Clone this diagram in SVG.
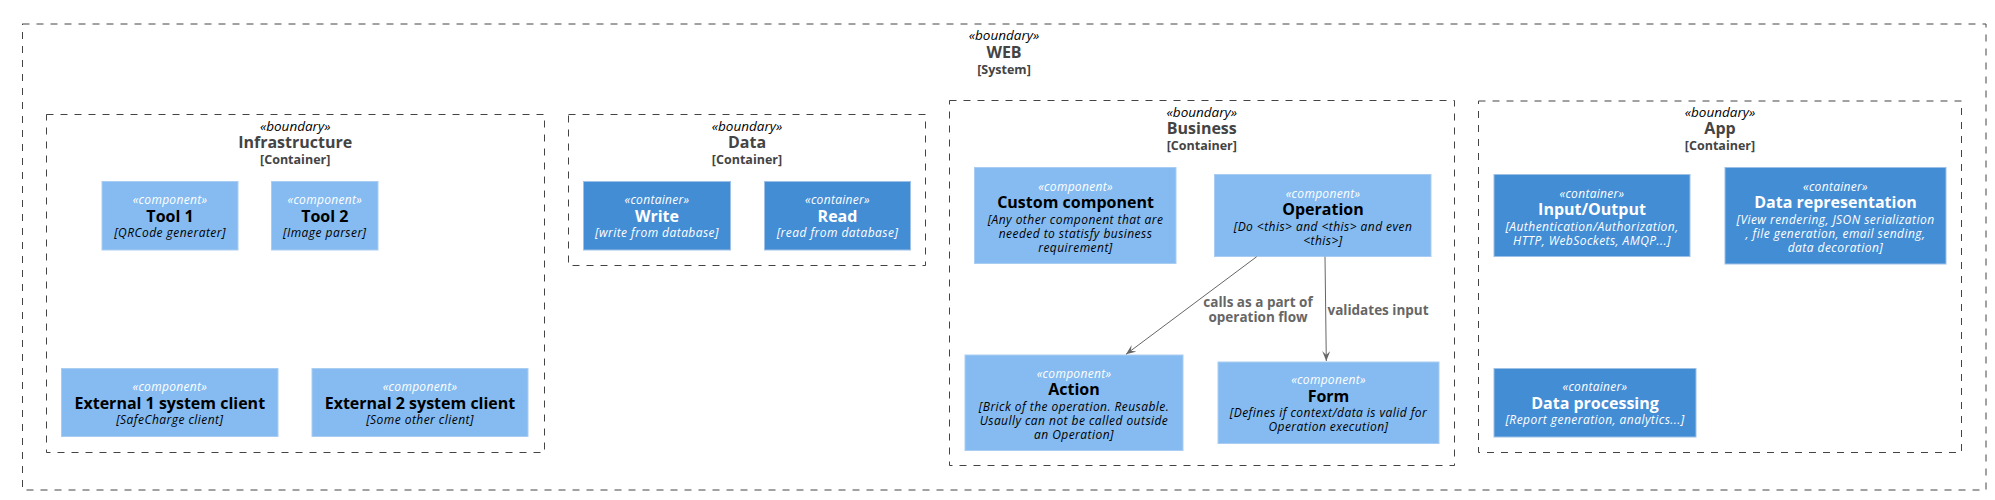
<svg xmlns="http://www.w3.org/2000/svg" width="1995" height="500" viewBox="0 0 1995 500">
<style>
text{font-family:"Open Sans","Noto Sans","DejaVu Sans",sans-serif;text-anchor:middle}
.bnd{fill:none;stroke:#444444;stroke-width:1;stroke-dasharray:7,7}
.bst{font-size:13.5px;font-style:italic;fill:#000000}
.bname{font-size:16px;font-weight:bold;fill:#444444}
.btype{font-size:12.5px;font-weight:bold;fill:#444444}
.comp{fill:#85BBF0;stroke:#A9CDF2;stroke-width:1}
.cont{fill:#438DD5;stroke:#9DC0E6;stroke-width:1}
.st{font-size:12px;font-style:italic;letter-spacing:0.3px}
.ti{font-size:16px;font-weight:bold}
.de{font-size:12px;font-style:italic;letter-spacing:0.45px}
.comp-t{fill:#000000}
.comp-s{fill:#FFFFFF}
.cont-t{fill:#FFFFFF}
.edge{fill:none;stroke:#666666;stroke-width:1}
.lbl{font-size:13.5px;font-weight:bold;fill:#666666}
</style>
<defs>
<marker id="arr" markerWidth="12" markerHeight="10" refX="10" refY="4" orient="auto" markerUnits="userSpaceOnUse">
<path d="M0,0 L10,4 L0,8 L4,4 Z" fill="#666666"/>
</marker>
</defs>

<g id="boundary-web">
<rect class="bnd" x="22.5" y="24" width="1963.5" height="466"/>
<text class="bst" x="1004" y="40">«boundary»</text>
<text class="bname" x="1004" y="58">WEB</text>
<text class="btype" x="1004" y="73.5">[System]</text>
</g>

<g id="boundary-infrastructure">
<rect class="bnd" x="46.5" y="114.5" width="498" height="338"/>
<text class="bst" x="295.2" y="131">«boundary»</text>
<text class="bname" x="295.2" y="148.3">Infrastructure</text>
<text class="btype" x="295.2" y="163.5">[Container]</text>
</g>

<g id="boundary-data">
<rect class="bnd" x="568.5" y="114.5" width="357" height="151"/>
<text class="bst" x="747" y="131">«boundary»</text>
<text class="bname" x="747" y="148.3">Data</text>
<text class="btype" x="747" y="163.5">[Container]</text>
</g>

<g id="boundary-business">
<rect class="bnd" x="949.5" y="100.5" width="505" height="365"/>
<text class="bst" x="1201.8" y="116.5">«boundary»</text>
<text class="bname" x="1201.8" y="134.3">Business</text>
<text class="btype" x="1201.8" y="149.6">[Container]</text>
</g>

<g id="boundary-app">
<rect class="bnd" x="1478.5" y="101" width="483" height="351.5"/>
<text class="bst" x="1720" y="116.5">«boundary»</text>
<text class="bname" x="1720" y="134.3">App</text>
<text class="btype" x="1720" y="149.6">[Container]</text>
</g>

<g id="tool1">
<rect class="comp" x="102" y="181.5" width="136" height="68.5"/>
<text class="st comp-s" x="170" y="204">«component»</text>
<text class="ti comp-t" x="170" y="221.8">Tool 1</text>
<text class="de comp-t" x="170" y="237.2">[QRCode generater]</text>
</g>

<g id="tool2">
<rect class="comp" x="271.5" y="181.5" width="106.5" height="68.5"/>
<text class="st comp-s" x="324.8" y="204">«component»</text>
<text class="ti comp-t" x="324.8" y="221.8">Tool 2</text>
<text class="de comp-t" x="324.8" y="237.2">[Image parser]</text>
</g>

<g id="external1">
<rect class="comp" x="61.5" y="368.5" width="216.5" height="68"/>
<text class="st comp-s" x="169.8" y="391">«component»</text>
<text class="ti comp-t" x="169.8" y="408.8">External 1 system client</text>
<text class="de comp-t" x="169.8" y="424.2">[SafeCharge client]</text>
</g>

<g id="external2">
<rect class="comp" x="312" y="368.5" width="216" height="68"/>
<text class="st comp-s" x="420" y="391">«component»</text>
<text class="ti comp-t" x="420" y="408.8">External 2 system client</text>
<text class="de comp-t" x="420" y="424.2">[Some other client]</text>
</g>

<g id="write">
<rect class="cont" x="583.5" y="181.5" width="147" height="68.5"/>
<text class="st cont-t" x="657" y="204">«container»</text>
<text class="ti cont-t" x="657" y="221.8">Write</text>
<text class="de cont-t" x="657" y="237.2">[write from database]</text>
</g>

<g id="read">
<rect class="cont" x="764.5" y="181.5" width="146" height="68.5"/>
<text class="st cont-t" x="837.5" y="204">«container»</text>
<text class="ti cont-t" x="837.5" y="221.8">Read</text>
<text class="de cont-t" x="837.5" y="237.2">[read from database]</text>
</g>

<g id="custom-component">
<rect class="comp" x="974.5" y="167.5" width="201.5" height="96"/>
<text class="st comp-s" x="1075.5" y="190.5">«component»</text>
<text class="ti comp-t" x="1075.5" y="208.3">Custom component</text>
<text class="de comp-t" x="1075.5" y="223.5">[Any other component that are</text>
<text class="de comp-t" x="1075.5" y="237.5">needed to statisfy business</text>
<text class="de comp-t" x="1075.5" y="251.5">requirement]</text>
</g>

<g id="operation">
<rect class="comp" x="1214.5" y="174.5" width="216.5" height="82"/>
<text class="st comp-s" x="1323" y="197.5">«component»</text>
<text class="ti comp-t" x="1323" y="215">Operation</text>
<text class="de comp-t" x="1323" y="230.5">[Do &lt;this&gt; and &lt;this&gt; and even</text>
<text class="de comp-t" x="1323" y="244.5">&lt;this&gt;]</text>
</g>

<g id="action">
<rect class="comp" x="965" y="355" width="218" height="95.5"/>
<text class="st comp-s" x="1074" y="377.5">«component»</text>
<text class="ti comp-t" x="1074" y="395">Action</text>
<text class="de comp-t" x="1074" y="410.5">[Brick of the operation. Reusable.</text>
<text class="de comp-t" x="1074" y="424.5">Usaully can not be called outside</text>
<text class="de comp-t" x="1074" y="438.5">an Operation]</text>
</g>

<g id="form">
<rect class="comp" x="1218" y="362" width="221" height="81.5"/>
<text class="st comp-s" x="1328.5" y="384">«component»</text>
<text class="ti comp-t" x="1328.5" y="401.5">Form</text>
<text class="de comp-t" x="1328.5" y="417">[Defines if context/data is valid for</text>
<text class="de comp-t" x="1328.5" y="431">Operation execution]</text>
</g>

<g id="input-output">
<rect class="cont" x="1494" y="174.5" width="196" height="82"/>
<text class="st cont-t" x="1592" y="197.5">«container»</text>
<text class="ti cont-t" x="1592" y="215">Input/Output</text>
<text class="de cont-t" x="1592" y="230.5">[Authentication/Authorization,</text>
<text class="de cont-t" x="1592" y="244.5">HTTP, WebSockets, AMQP...]</text>
</g>

<g id="data-representation">
<rect class="cont" x="1725" y="167.5" width="221" height="96.5"/>
<text class="st cont-t" x="1835.5" y="190.5">«container»</text>
<text class="ti cont-t" x="1835.5" y="208.3">Data representation</text>
<text class="de cont-t" x="1835.5" y="223.5">[View rendering, JSON serialization</text>
<text class="de cont-t" x="1835.5" y="237.5">, file generation, email sending,</text>
<text class="de cont-t" x="1835.5" y="251.5">data decoration]</text>
</g>

<g id="data-processing">
<rect class="cont" x="1494" y="368.5" width="202" height="68.5"/>
<text class="st cont-t" x="1595" y="391">«container»</text>
<text class="ti cont-t" x="1595" y="408.8">Data processing</text>
<text class="de cont-t" x="1595" y="424.2">[Report generation, analytics...]</text>
</g>

<g id="connectors">
<path class="edge" d="M1256.7,256.7 L1126,354.3" marker-end="url(#arr)"/>
<path class="edge" d="M1325,256.7 L1326.3,361" marker-end="url(#arr)"/>
<text class="lbl" x="1258" y="307">calls as a part of</text>
<text class="lbl" x="1258" y="322">operation flow</text>
<text class="lbl" x="1327.5" y="314.5" style="text-anchor:start">validates input</text>
</g>
</svg>
